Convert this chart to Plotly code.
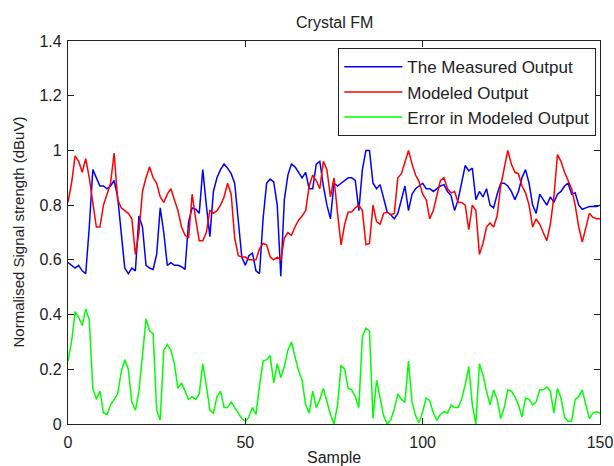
import plotly.graph_objects as go

sample = list(range(0, 151))

measured = [
    0.59, 0.58, 0.57, 0.58, 0.56, 0.55, 0.72, 0.93, 0.90, 0.87,
    0.87, 0.86, 0.87, 0.89, 0.83, 0.70, 0.57, 0.55, 0.57, 0.56,
    0.76, 0.72, 0.58, 0.57, 0.565, 0.62, 0.79, 0.70, 0.58, 0.59,
    0.58, 0.58, 0.575, 0.565, 0.74, 0.79, 0.785, 0.77, 0.93, 0.80,
    0.685, 0.85, 0.90, 0.93, 0.95, 0.935, 0.915, 0.88, 0.75, 0.61,
    0.58, 0.615, 0.625, 0.56, 0.55, 0.75, 0.88, 0.895, 0.885, 0.80,
    0.54, 0.82, 0.91, 0.95, 0.94, 0.92, 0.90, 0.92, 0.86, 0.86,
    0.95, 0.96, 0.87, 0.80, 0.75, 0.88, 0.87, 0.88, 0.89, 0.90,
    0.90, 0.89, 0.78, 0.93, 1.0, 1.0, 0.88, 0.86, 0.875, 0.82,
    0.775, 0.765, 0.75, 0.77, 0.82, 0.87, 0.78, 0.84, 0.86, 0.87,
    0.88, 0.86, 0.86, 0.85, 0.86, 0.87, 0.875, 0.85, 0.835, 0.78,
    0.82, 0.88, 0.945, 0.925, 0.935, 0.82, 0.85, 0.83, 0.86, 0.80,
    0.79, 0.84, 0.88, 0.88, 0.87, 0.85, 0.82, 0.85, 0.90, 0.93,
    0.88, 0.80, 0.77, 0.84, 0.82, 0.80, 0.83, 0.81, 0.84, 0.85,
    0.87, 0.88, 0.84, 0.845, 0.80, 0.785, 0.79, 0.795, 0.795, 0.795,
    0.80,
]

modeled = [
    0.81, 0.88, 0.98, 0.96, 0.92, 0.97, 0.90, 0.80, 0.72, 0.72,
    0.80, 0.84, 0.88, 0.99, 0.82, 0.79, 0.78, 0.77, 0.75, 0.62,
    0.70, 0.85, 0.90, 0.94, 0.90, 0.88, 0.83, 0.81, 0.84, 0.86,
    0.82, 0.78, 0.72, 0.69, 0.68, 0.84, 0.75, 0.67, 0.67, 0.70,
    0.78, 0.77, 0.78, 0.80, 0.83, 0.88, 0.84, 0.68, 0.615, 0.61,
    0.61, 0.60, 0.60, 0.60, 0.64, 0.66, 0.655, 0.61, 0.60, 0.61,
    0.60, 0.68, 0.70, 0.69, 0.72, 0.745, 0.76, 0.78, 0.87, 0.91,
    0.89, 0.86, 0.96, 0.93, 0.83, 0.90, 0.77, 0.655, 0.73, 0.775,
    0.775, 0.79, 0.80, 0.78, 0.655, 0.66, 0.80, 0.74, 0.73, 0.77,
    0.775, 0.765, 0.77, 0.90, 0.915, 0.96, 1.0, 0.95, 0.91, 0.885,
    0.84, 0.82, 0.75, 0.78, 0.84, 0.89, 0.90, 0.86, 0.845, 0.85,
    0.81, 0.81, 0.80, 0.71, 0.80, 0.78, 0.62, 0.66, 0.72, 0.735,
    0.72, 0.76, 0.87, 0.93, 1.0, 0.95, 0.92, 0.915, 0.87, 0.845,
    0.80, 0.72, 0.75, 0.73, 0.70, 0.67, 0.73, 0.83, 0.985, 0.96,
    0.92, 0.89, 0.86, 0.80, 0.72, 0.665, 0.72, 0.77, 0.755, 0.75,
    0.75,
]

error = [
    0.23, 0.30, 0.41, 0.39, 0.36, 0.42, 0.38, 0.13, 0.09, 0.12,
    0.04, 0.035, 0.07, 0.09, 0.11, 0.19, 0.235, 0.20, 0.08, 0.05,
    0.12, 0.25, 0.385, 0.34, 0.33, 0.05, 0.015, 0.27, 0.29, 0.27,
    0.22, 0.13, 0.15, 0.12, 0.09, 0.10, 0.09, 0.11, 0.22, 0.14,
    0.05, 0.04, 0.10, 0.12, 0.06, 0.06, 0.08, 0.06, 0.04, 0.02,
    0.01, 0.025, 0.06, 0.035, 0.14, 0.23, 0.235, 0.25, 0.15, 0.22,
    0.17, 0.21, 0.27, 0.30, 0.245, 0.195, 0.16, 0.07, 0.04, 0.12,
    0.06, 0.09, 0.13, 0.085, 0.035, 0.00, 0.07, 0.215, 0.20, 0.13,
    0.125, 0.10, 0.06, 0.32, 0.35, 0.34, 0.02, 0.16, 0.10, 0.03,
    0.00, 0.015, 0.055, 0.11, 0.09, 0.08, 0.23, 0.08, 0.03, 0.005,
    0.045, 0.095, 0.085, 0.04, 0.015, 0.035, 0.045, 0.04, 0.07, 0.06,
    0.06, 0.09, 0.145, 0.21, 0.07, 0.00, 0.22, 0.18, 0.12, 0.07,
    0.125, 0.09, 0.02, 0.06, 0.125, 0.12, 0.10, 0.07, 0.025, 0.095,
    0.09, 0.07, 0.08, 0.125, 0.125, 0.135, 0.12, 0.04, 0.13, 0.095,
    0.025, 0.01, 0.01, 0.09, 0.10, 0.125, 0.07, 0.02, 0.04, 0.045,
    0.04,
]

series_names = ["The Measured Output", "Modeled Output", "Error in Modeled Output"]
series_colors = ["#0000ff", "#ff0000", "#00ff00"]
x_ticks = [0, 50, 100, 150]
y_ticks = [0, 0.2, 0.4, 0.6, 0.8, 1.0, 1.2, 1.4]

FONT = "Liberation Sans, Arial, sans-serif"
TXT = "#222222"
W, H = 614, 466
L, R, T, B = 68, 14, 41, 42

fig = go.Figure()
for name, ys, col in zip(series_names, [measured, modeled, error], series_colors):
    fig.add_trace(go.Scatter(x=sample, y=ys, mode="lines", name=name,
                             line=dict(color=col, width=1.5)))

axis_common = dict(
    showline=True, linecolor=TXT, linewidth=1.3, mirror="ticks",
    ticks="inside", ticklen=6, tickcolor=TXT, tickwidth=1.3,
    showgrid=False, zeroline=False, automargin=False,
    tickfont=dict(family=FONT, size=16, color=TXT),
)

fig.update_layout(
    width=W, height=H,
    margin=dict(l=L, r=R, t=T, b=B, autoexpand=False),
    paper_bgcolor="white", plot_bgcolor="white",
    font=dict(family=FONT, size=16, color=TXT),
    xaxis=dict(range=[0, 150], tickvals=x_ticks, ticklabelstandoff=4, **axis_common),
    yaxis=dict(range=[0, 1.4], tickvals=y_ticks, ticklabelstandoff=2, **axis_common),
    legend=dict(x=(338 - L) / (W - L - R), y=1 - (48 - T) / (H - T - B),
                xanchor="left", yanchor="top",
                bgcolor="white", bordercolor=TXT, borderwidth=1.3,
                font=dict(family=FONT, size=17, color=TXT),
                itemwidth=58, tracegroupgap=0),
    showlegend=True,
    annotations=[
        dict(text="Crystal FM", xref="paper", yref="paper", x=0.5,
             y=1 + (T - 22) / (H - T - B), xanchor="center", yanchor="middle",
             showarrow=False, font=dict(family=FONT, size=16, color=TXT)),
        dict(text="Sample", xref="paper", yref="paper", x=0.5,
             y=-(457 - (H - B)) / (H - T - B), xanchor="center", yanchor="middle",
             showarrow=False, font=dict(family=FONT, size=16, color=TXT)),
        dict(text="Normalised Signal strength (dBuV)", xref="paper", yref="paper",
             x=-(L - 18) / (W - L - R), y=0.5, xanchor="center", yanchor="middle",
             textangle=-90, showarrow=False,
             font=dict(family=FONT, size=15, color=TXT)),
    ],
)

fig.write_html("out.html")
